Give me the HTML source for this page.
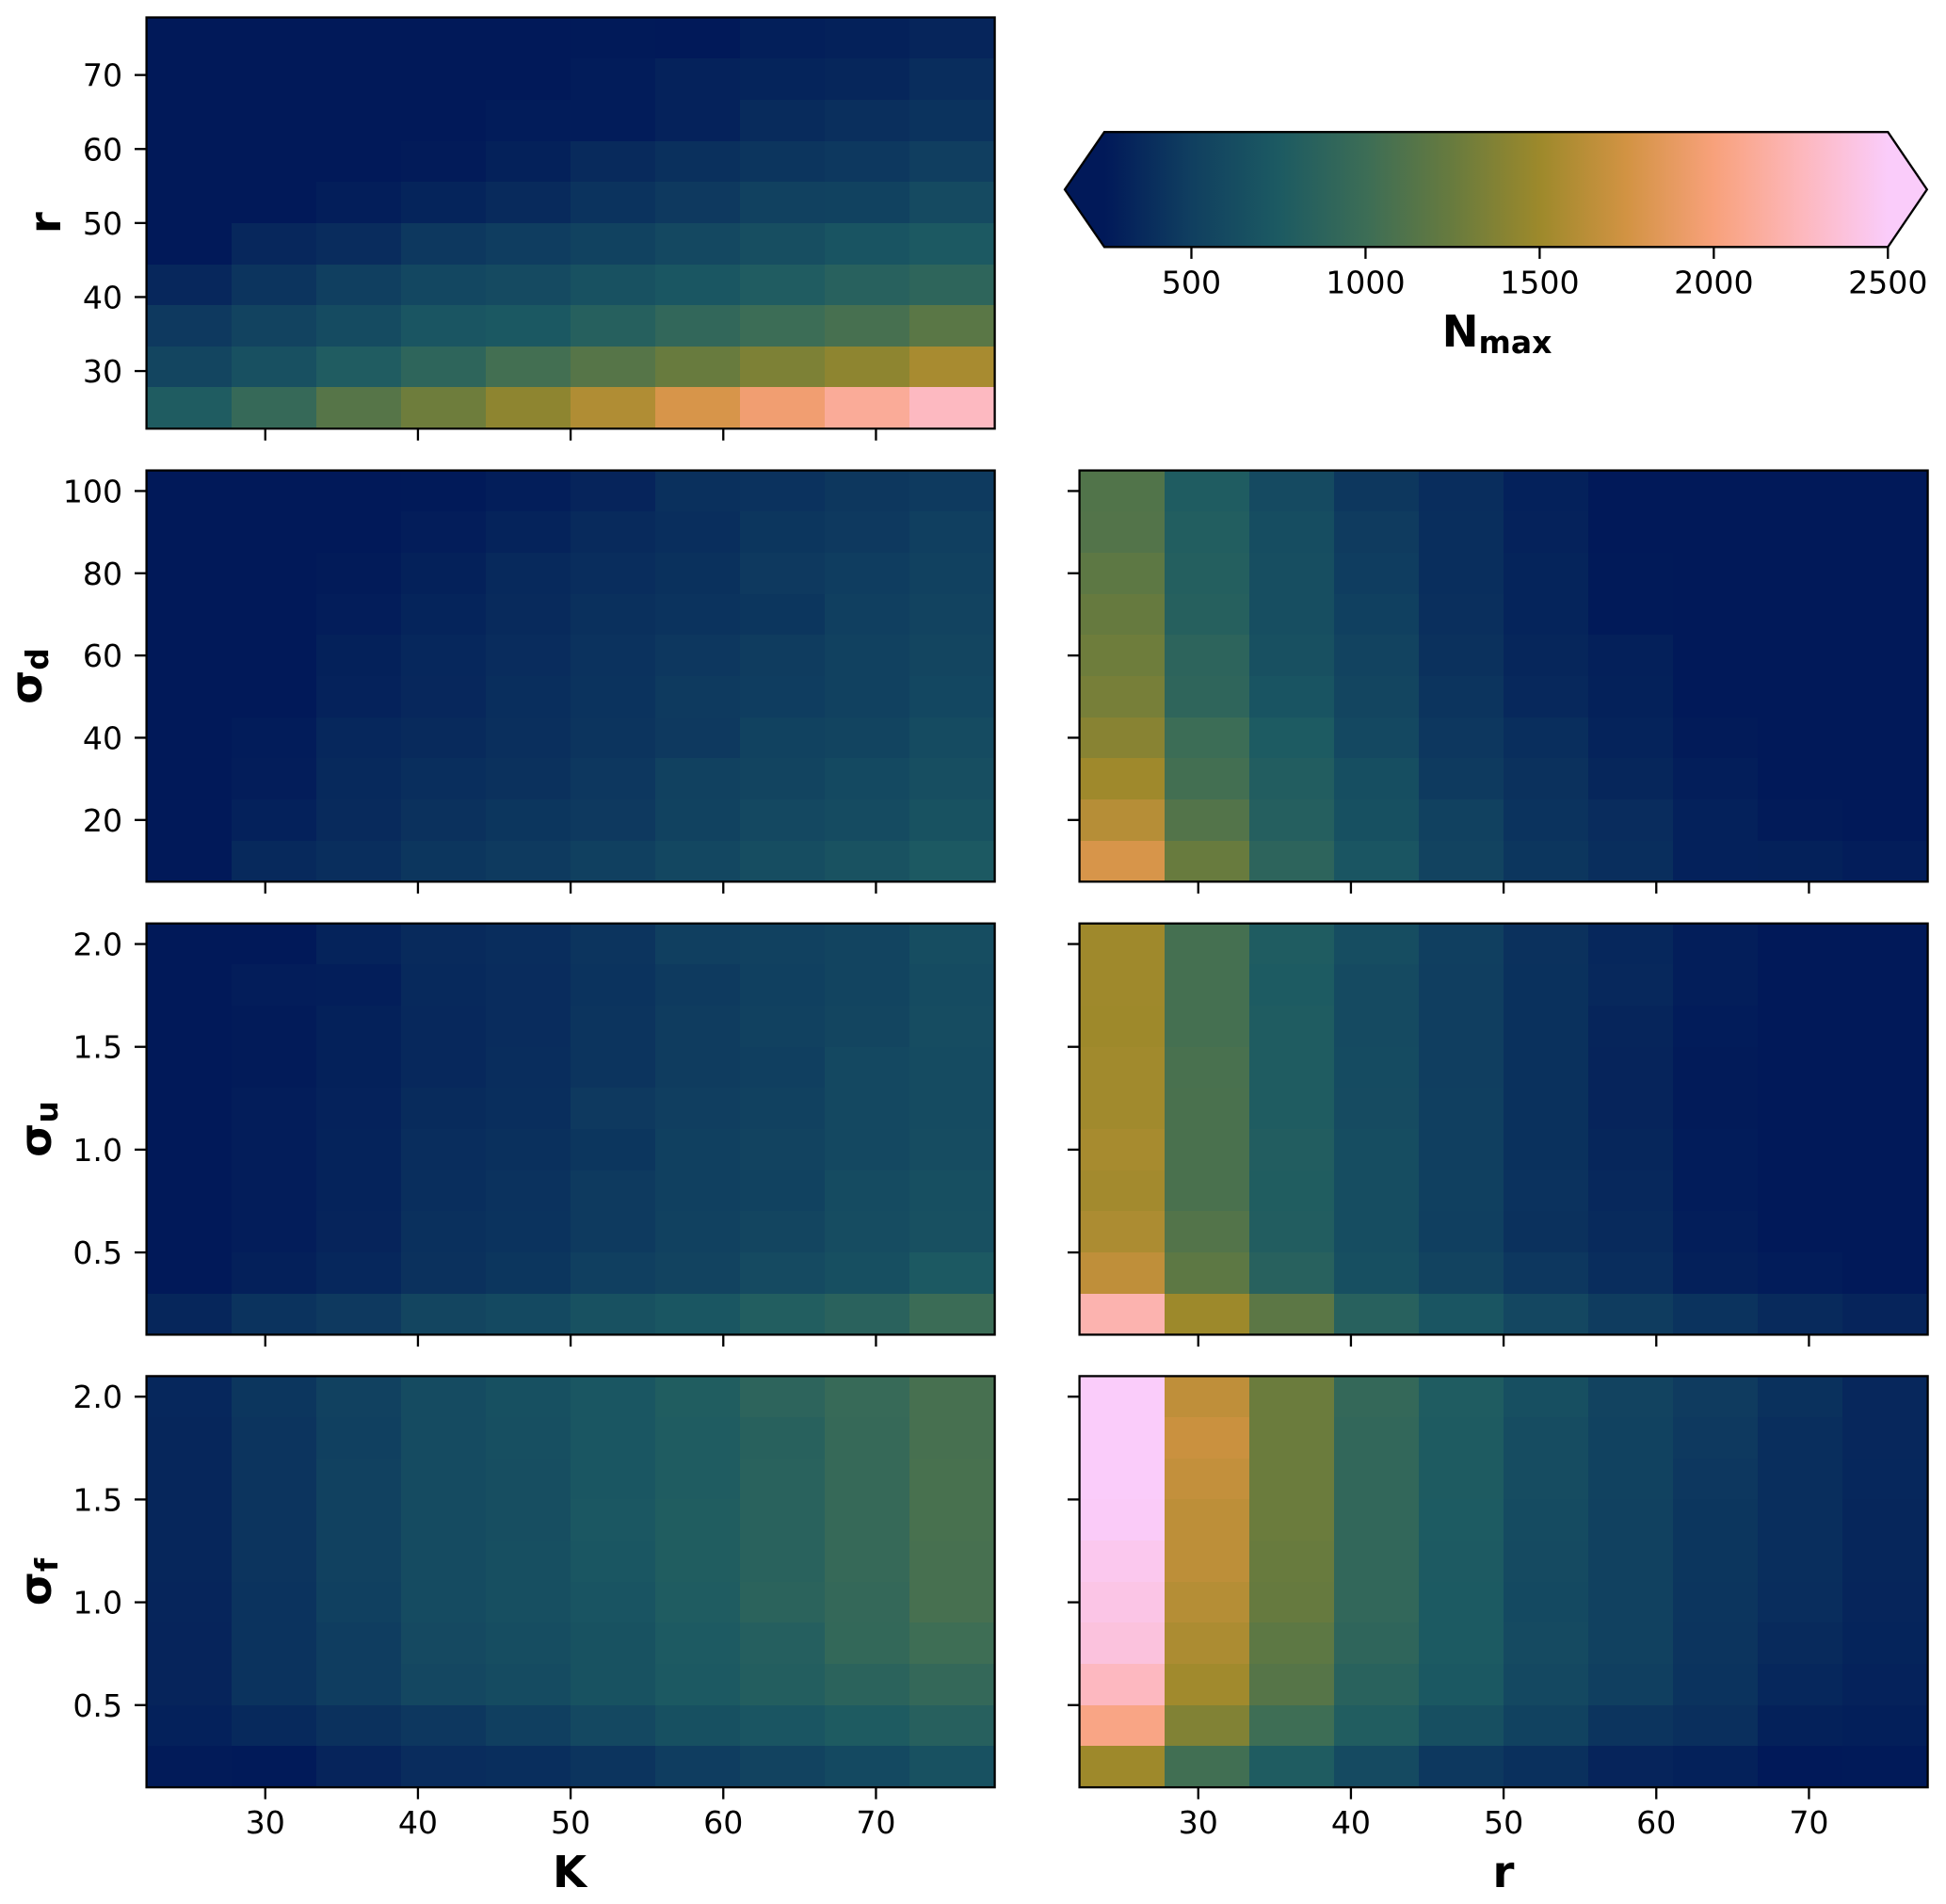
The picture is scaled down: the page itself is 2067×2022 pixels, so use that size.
<!DOCTYPE html>
<html lang="en">
<head>
<meta charset="utf-8">
<title>Nmax parameter sweep heatmaps</title>
<style>
  html, body { margin: 0; padding: 0; background: #ffffff; }
  #figure { display: block; position: absolute; left: 0; top: 0; }
  text { font-family: "DejaVu Sans", "Liberation Sans", sans-serif; fill: #000; }
  .tick-label { font-size: 33.2px; }
  .axis-label { font-size: 46.5px; font-weight: 700; }
  .axis-sub { font-size: 33px; font-weight: 700; }
</style>
</head>
<body>
<svg id="figure" xmlns="http://www.w3.org/2000/svg" width="2067" height="2022" viewBox="0 0 2067 2022">
  <rect x="0" y="0" width="2067" height="2022" fill="#ffffff"/>
  <g id="panels"></g>
  <g id="colorbar"></g>

  <text class="axis-label" text-anchor="middle" transform="translate(64,236.7) rotate(-90)">r</text>
  <text class="axis-label" text-anchor="middle" transform="translate(44,718) rotate(-90)">σ<tspan class="axis-sub" dy="7">d</tspan></text>
  <text class="axis-label" text-anchor="middle" transform="translate(54,1199) rotate(-90)">σ<tspan class="axis-sub" dy="7">u</tspan></text>
  <text class="axis-label" text-anchor="middle" transform="translate(54,1680) rotate(-90)">σ<tspan class="axis-sub" dy="7">f</tspan></text>
  <text class="axis-label" text-anchor="middle" x="605" y="2004">K</text>
  <text class="axis-label" text-anchor="middle" x="1597" y="2004">r</text>
  <text class="axis-label" text-anchor="middle" x="1590" y="368">N<tspan class="axis-sub" dy="7">max</tspan></text>
</svg>

<script>
// Category centres
const kValues = [25, 30.56, 36.11, 41.67, 47.22, 52.78, 58.33, 63.89, 69.44, 75];
const rValues = [25, 30.56, 36.11, 41.67, 47.22, 52.78, 58.33, 63.89, 69.44, 75];
const sigmaDValues = [10, 20, 30, 40, 50, 60, 70, 80, 90, 100];
const sigmaUValues = [0.2, 0.4, 0.6, 0.8, 1.0, 1.2, 1.4, 1.6, 1.8, 2.0];
const sigmaFValues = [0.2, 0.4, 0.6, 0.8, 1.0, 1.2, 1.4, 1.6, 1.8, 2.0];

// Tick values and labels
const kTicks = [30, 40, 50, 60, 70];
const rTicks = [30, 40, 50, 60, 70];
const sigmaDTicks = [20, 40, 60, 80, 100];
const sigmaUTicks = [0.5, 1.0, 1.5, 2.0];
const sigmaFTicks = [0.5, 1.0, 1.5, 2.0];
const sigmaTickLabels = ['0.5', '1.0', '1.5', '2.0'];
const colorbarTicks = [500, 1000, 1500, 2000, 2500];

// Colormap anchors (batlow-like) across the Nmax range
const colormapColors = [
  [1, 25, 89], [16, 63, 96], [28, 90, 98], [60, 109, 86], [104, 123, 62],
  [157, 137, 43], [210, 147, 67], [248, 161, 123], [253, 183, 188], [250, 204, 250]
];
const nmaxMin = 250;
const nmaxMax = 2500;

// Nmax grids: first row is the lowest y category, each row runs along the x categories
const nmaxRvsK = [
  [770, 950, 1150, 1280, 1430, 1590, 1780, 1955, 2110, 2270],
  [560, 660, 780, 890, 1040, 1150, 1250, 1350, 1430, 1550],
  [460, 540, 610, 700, 730, 830, 920, 1000, 1060, 1170],
  [345, 425, 500, 570, 600, 670, 710, 780, 840, 890],
  [250, 345, 375, 455, 490, 530, 580, 640, 690, 740],
  [245, 245, 280, 320, 360, 420, 460, 520, 530, 600],
  [245, 245, 245, 262, 300, 362, 400, 435, 454, 493],
  [245, 245, 245, 245, 268, 270, 310, 368, 395, 420],
  [245, 245, 245, 245, 245, 270, 310, 322, 335, 380],
  [245, 245, 245, 245, 245, 257, 250, 290, 300, 330]
];
const nmaxSigmaDvsK = [
  [250, 355, 390, 440, 470, 510, 570, 630, 680, 745],
  [250, 305, 360, 410, 440, 460, 530, 580, 610, 675],
  [250, 275, 355, 385, 410, 450, 520, 550, 590, 640],
  [250, 270, 340, 360, 395, 430, 460, 530, 550, 610],
  [250, 250, 310, 345, 385, 420, 465, 490, 520, 570],
  [250, 250, 300, 340, 375, 415, 450, 480, 520, 560],
  [250, 250, 275, 320, 360, 400, 420, 440, 500, 540],
  [250, 250, 260, 300, 355, 380, 405, 460, 490, 520],
  [250, 250, 250, 275, 315, 360, 390, 440, 460, 500],
  [250, 250, 250, 258, 280, 325, 400, 415, 445, 470]
];
const nmaxSigmaDvsR = [
  [1780, 1250, 880, 700, 540, 440, 390, 305, 300, 275],
  [1620, 1130, 820, 655, 520, 420, 375, 305, 260, 250],
  [1510, 1040, 795, 635, 470, 410, 335, 285, 250, 250],
  [1400, 1000, 760, 580, 450, 390, 315, 265, 250, 250],
  [1320, 900, 690, 560, 430, 350, 300, 250, 250, 250],
  [1280, 880, 660, 540, 410, 335, 295, 250, 250, 250],
  [1240, 830, 640, 510, 395, 320, 258, 250, 250, 250],
  [1190, 810, 640, 490, 390, 320, 258, 250, 250, 250],
  [1130, 800, 630, 475, 385, 310, 245, 245, 245, 245],
  [1120, 770, 600, 445, 380, 305, 245, 245, 245, 245]
];
const nmaxSigmaUvsK = [
  [335, 420, 460, 560, 590, 670, 715, 800, 860, 990],
  [250, 295, 340, 410, 440, 500, 540, 600, 650, 745],
  [250, 275, 325, 400, 420, 470, 520, 560, 620, 660],
  [250, 275, 315, 390, 415, 470, 510, 530, 610, 645],
  [250, 275, 315, 380, 400, 440, 510, 540, 580, 620],
  [250, 275, 310, 370, 390, 460, 495, 520, 580, 610],
  [250, 260, 300, 350, 380, 430, 480, 500, 580, 610],
  [250, 260, 300, 350, 375, 430, 480, 520, 560, 620],
  [250, 275, 285, 355, 375, 420, 465, 510, 550, 610],
  [250, 250, 315, 365, 380, 430, 500, 520, 550, 630]
];
const nmaxSigmaUvsR = [
  [2200, 1500, 1180, 840, 700, 575, 480, 420, 360, 325],
  [1660, 1190, 840, 650, 540, 450, 380, 295, 270, 250],
  [1570, 1130, 795, 625, 500, 410, 360, 285, 250, 250],
  [1530, 1080, 785, 625, 510, 415, 350, 270, 250, 250],
  [1545, 1080, 795, 625, 500, 405, 335, 270, 250, 250],
  [1520, 1080, 775, 615, 500, 405, 325, 265, 250, 250],
  [1520, 1075, 775, 610, 495, 405, 325, 265, 250, 248],
  [1505, 1050, 770, 605, 495, 405, 330, 270, 250, 248],
  [1510, 1050, 760, 605, 495, 405, 350, 280, 250, 248],
  [1510, 1050, 775, 625, 500, 410, 340, 280, 250, 248]
];
const nmaxSigmaFvsK = [
  [265, 258, 325, 375, 390, 430, 490, 540, 590, 665],
  [305, 355, 410, 450, 500, 580, 655, 700, 765, 835],
  [325, 420, 490, 575, 610, 675, 740, 805, 865, 935],
  [325, 420, 490, 595, 630, 675, 755, 820, 930, 1010],
  [330, 420, 510, 610, 650, 695, 775, 865, 935, 1060],
  [335, 430, 520, 610, 650, 710, 785, 855, 950, 1060],
  [335, 430, 515, 610, 640, 720, 785, 855, 950, 1070],
  [335, 430, 515, 610, 640, 710, 775, 855, 950, 1070],
  [335, 425, 510, 610, 650, 710, 775, 845, 950, 1060],
  [340, 440, 520, 610, 655, 710, 785, 880, 960, 1060]
];
const nmaxSigmaFvsR = [
  [1505, 1030, 770, 600, 455, 400, 325, 300, 252, 258],
  [2040, 1370, 1010, 790, 650, 530, 425, 395, 300, 290],
  [2265, 1520, 1150, 850, 730, 580, 500, 420, 340, 310],
  [2385, 1570, 1190, 900, 750, 600, 520, 430, 365, 320],
  [2420, 1615, 1240, 920, 750, 590, 520, 435, 380, 330],
  [2450, 1650, 1250, 925, 755, 600, 520, 440, 385, 335],
  [2490, 1650, 1265, 925, 760, 610, 520, 440, 385, 335],
  [2500, 1680, 1265, 925, 765, 620, 530, 450, 390, 340],
  [2500, 1710, 1265, 925, 765, 620, 530, 460, 390, 345],
  [2500, 1660, 1265, 935, 770, 650, 540, 475, 405, 345]
];

const SVG_NS = 'http://www.w3.org/2000/svg';
const AXES_W = 901;
const AXES_H = 436.7;
const COL_LEFT = [155.6, 1146.6];
const ROW_TOP = [18.5, 499.6, 980.7, 1461.4];
const TICK_LEN = 12.6;
const LINE_W = 2.3;

function svgEl(tag) {
  return document.createElementNS(SVG_NS, tag);
}

function colormap(value) {
  const n = colormapColors.length - 1;
  const t = Math.min(1, Math.max(0, (value - nmaxMin) / (nmaxMax - nmaxMin))) * n;
  const i = Math.min(n - 1, Math.floor(t));
  const f = t - i;
  const a = colormapColors[i];
  const b = colormapColors[i + 1];
  const mix = [0, 1, 2].map(function (c) { return Math.round(a[c] + (b[c] - a[c]) * f); });
  return 'rgb(' + mix.join(',') + ')';
}

// Cell edges are the midpoints of neighbouring categories; outer edges extend half a step
function cellEdges(categories) {
  const edges = [];
  const last = categories.length - 1;
  edges.push(categories[0] - (categories[1] - categories[0]) / 2);
  for (let i = 0; i < last; i++) {
    edges.push((categories[i] + categories[i + 1]) / 2);
  }
  edges.push(categories[last] + (categories[last] - categories[last - 1]) / 2);
  return edges;
}

function linearScale(domainMin, domainMax, pixelMin, pixelMax) {
  return function (v) {
    return pixelMin + (v - domainMin) / (domainMax - domainMin) * (pixelMax - pixelMin);
  };
}

function addLine(parent, x1, y1, x2, y2, name) {
  const line = svgEl('line');
  
  
  line.setAttribute('x1', x1);
  line.setAttribute('y1', y1);
  line.setAttribute('x2', x2);
  line.setAttribute('y2', y2);
  line.setAttribute('stroke', '#000');
  line.setAttribute('stroke-width', LINE_W);
  parent.appendChild(line);
}

function addTickText(parent, x, y, anchor, content, name) {
  const label = svgEl('text');
  
  
  label.setAttribute('class', 'tick-label');
  label.setAttribute('x', x);
  label.setAttribute('y', y);
  label.setAttribute('text-anchor', anchor);
  label.textContent = content;
  parent.appendChild(label);
}

function drawPanel(cfg) {
  const left = COL_LEFT[cfg.col];
  const top = ROW_TOP[cfg.row];
  const right = left + AXES_W;
  const bottom = top + AXES_H;
  const xEdges = cellEdges(cfg.xCats);
  const yEdges = cellEdges(cfg.yCats);
  const xScale = linearScale(xEdges[0], xEdges[xEdges.length - 1], left, right);
  const yScale = linearScale(yEdges[0], yEdges[yEdges.length - 1], bottom, top);

  const group = svgEl('g');
  
  

  cfg.values.forEach(function (rowValues, r) {
    rowValues.forEach(function (value, c) {
      const cell = svgEl('rect');
      
      
      const x0 = Math.round(xScale(xEdges[c]));
      const x1 = Math.round(xScale(xEdges[c + 1]));
      const y0 = Math.round(yScale(yEdges[r + 1]));
      const y1 = Math.round(yScale(yEdges[r]));
      cell.setAttribute('x', x0);
      cell.setAttribute('y', y0);
      cell.setAttribute('width', x1 - x0);
      cell.setAttribute('height', y1 - y0);
      cell.setAttribute('fill', colormap(value));
      cell.setAttribute('shape-rendering', 'crispEdges');
      group.appendChild(cell);
    });
  });

  const frame = svgEl('rect');
  
  
  frame.setAttribute('x', left);
  frame.setAttribute('y', top);
  frame.setAttribute('width', AXES_W);
  frame.setAttribute('height', AXES_H);
  frame.setAttribute('fill', 'none');
  frame.setAttribute('stroke', '#000');
  frame.setAttribute('stroke-width', LINE_W);
  group.appendChild(frame);

  cfg.xTicks.forEach(function (tick) {
    const x = xScale(tick);
    addLine(group, x, bottom, x, bottom + TICK_LEN, 'x-tick');
    if (cfg.showXLabels) {
      addTickText(group, x, bottom + 49, 'middle', String(tick), 'x-tick-label');
    }
  });
  cfg.yTicks.forEach(function (tick, i) {
    const y = yScale(tick);
    addLine(group, left - TICK_LEN, y, left, y, 'y-tick');
    if (cfg.showYLabels) {
      const text = cfg.yTickLabels ? cfg.yTickLabels[i] : String(tick);
      addTickText(group, left - 25.5, y + 12, 'end', text, 'y-tick-label');
    }
  });
  document.getElementById('panels').appendChild(group);
}

drawPanel({ name: 'heatmap-r-vs-k', col: 0, row: 0, xCats: kValues, yCats: rValues, values: nmaxRvsK, xTicks: kTicks, yTicks: rTicks, showXLabels: false, showYLabels: true });
drawPanel({ name: 'heatmap-sigma-d-vs-k', col: 0, row: 1, xCats: kValues, yCats: sigmaDValues, values: nmaxSigmaDvsK, xTicks: kTicks, yTicks: sigmaDTicks, showXLabels: false, showYLabels: true });
drawPanel({ name: 'heatmap-sigma-d-vs-r', col: 1, row: 1, xCats: rValues, yCats: sigmaDValues, values: nmaxSigmaDvsR, xTicks: rTicks, yTicks: sigmaDTicks, showXLabels: false, showYLabels: false });
drawPanel({ name: 'heatmap-sigma-u-vs-k', col: 0, row: 2, xCats: kValues, yCats: sigmaUValues, values: nmaxSigmaUvsK, xTicks: kTicks, yTicks: sigmaUTicks, yTickLabels: sigmaTickLabels, showXLabels: false, showYLabels: true });
drawPanel({ name: 'heatmap-sigma-u-vs-r', col: 1, row: 2, xCats: rValues, yCats: sigmaUValues, values: nmaxSigmaUvsR, xTicks: rTicks, yTicks: sigmaUTicks, showXLabels: false, showYLabels: false });
drawPanel({ name: 'heatmap-sigma-f-vs-k', col: 0, row: 3, xCats: kValues, yCats: sigmaFValues, values: nmaxSigmaFvsK, xTicks: kTicks, yTicks: sigmaFTicks, yTickLabels: sigmaTickLabels, showXLabels: true, showYLabels: true });
drawPanel({ name: 'heatmap-sigma-f-vs-r', col: 1, row: 3, xCats: rValues, yCats: sigmaFValues, values: nmaxSigmaFvsR, xTicks: rTicks, yTicks: sigmaFTicks, showXLabels: true, showYLabels: false });

function drawColorbar() {
  const group = document.getElementById('colorbar');
  const top = 140.2;
  const bottom = 262.3;
  const left = 1173;
  const right = 2005.3;
  const mid = (top + bottom) / 2;
  const tipLeft = 1131;
  const tipRight = 2046.8;
  const xScale = linearScale(nmaxMin, nmaxMax, left, right);

  const defs = svgEl('defs');
  const gradient = svgEl('linearGradient');
  gradient.setAttribute('id', 'colorbar-gradient');
  colormapColors.forEach(function (rgb, i) {
    const stop = svgEl('stop');
    stop.setAttribute('offset', (i / (colormapColors.length - 1) * 100) + '%');
    stop.setAttribute('stop-color', 'rgb(' + rgb.join(',') + ')');
    gradient.appendChild(stop);
  });
  defs.appendChild(gradient);
  group.appendChild(defs);

  const lowerTip = svgEl('polygon');
  
  
  lowerTip.setAttribute('points', (left + 1) + ',' + top + ' ' + tipLeft + ',' + mid + ' ' + (left + 1) + ',' + bottom);
  lowerTip.setAttribute('fill', colormap(nmaxMin));
  group.appendChild(lowerTip);

  const upperTip = svgEl('polygon');
  
  
  upperTip.setAttribute('points', (right - 1) + ',' + top + ' ' + tipRight + ',' + mid + ' ' + (right - 1) + ',' + bottom);
  upperTip.setAttribute('fill', colormap(nmaxMax));
  group.appendChild(upperTip);

  const body = svgEl('rect');
  
  
  body.setAttribute('x', left);
  body.setAttribute('y', top);
  body.setAttribute('width', right - left);
  body.setAttribute('height', bottom - top);
  body.setAttribute('fill', 'url(#colorbar-gradient)');
  group.appendChild(body);

  const outline = svgEl('polygon');
  
  
  outline.setAttribute('points',
    left + ',' + top + ' ' + right + ',' + top + ' ' + tipRight + ',' + mid + ' ' +
    right + ',' + bottom + ' ' + left + ',' + bottom + ' ' + tipLeft + ',' + mid);
  outline.setAttribute('fill', 'none');
  outline.setAttribute('stroke', '#000');
  outline.setAttribute('stroke-width', LINE_W);
  outline.setAttribute('stroke-linejoin', 'miter');
  group.appendChild(outline);

  colorbarTicks.forEach(function (tick) {
    const x = xScale(tick);
    addLine(group, x, bottom, x, bottom + TICK_LEN, 'colorbar-tick');
    addTickText(group, x, bottom + 49, 'middle', String(tick), 'colorbar-tick-label');
  });
}
drawColorbar();
</script>
</body>
</html>
